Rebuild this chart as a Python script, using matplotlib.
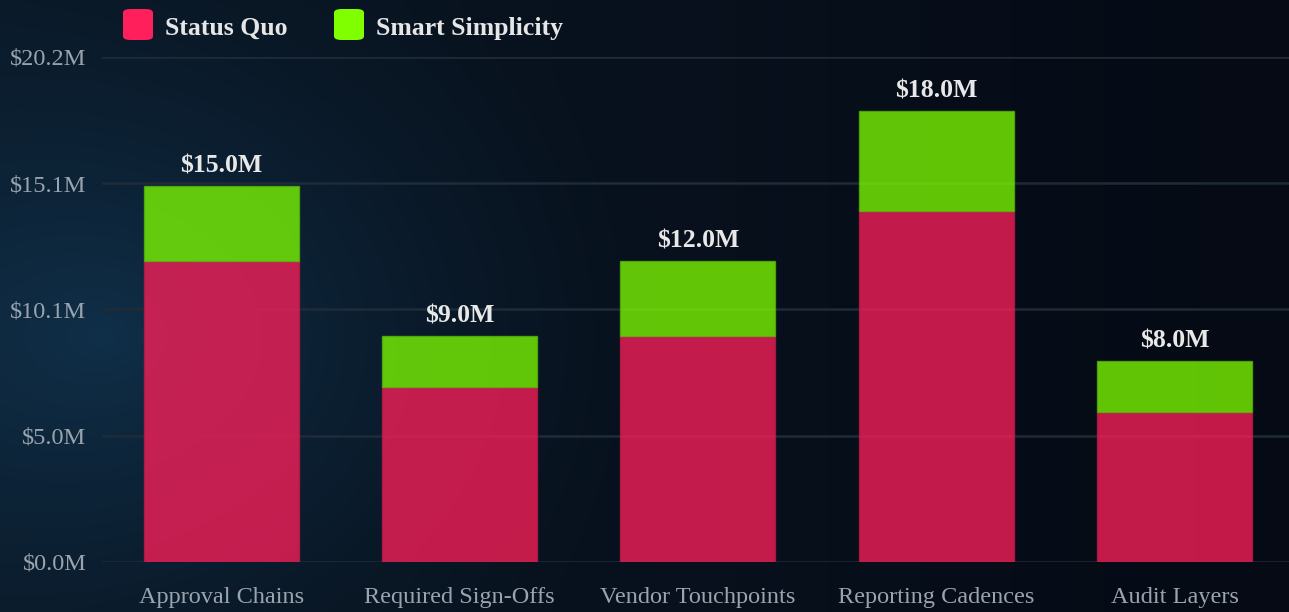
import matplotlib.pyplot as plt
import numpy as np
from matplotlib.patches import FancyBboxPatch

categories = ['Approval Chains', 'Required Sign-Offs', 'Vendor Touchpoints',
              'Reporting Cadences', 'Audit Layers']
status_quo = [12.0, 7.0, 9.0, 14.0, 6.0]
smart_simplicity = [3.0, 2.0, 3.0, 4.0, 2.0]
series_names = ['Status Quo', 'Smart Simplicity']
series_colors = ['#FF1F5A', '#7FFF00']

totals = [a + b for a, b in zip(status_quo, smart_simplicity)]
y_max = max(totals) * 1.12

plt.rcParams['font.family'] = ['Liberation Serif', 'DejaVu Serif']

fig = plt.figure(figsize=(12.89, 6.12), dpi=100)

# dark background with a soft blue glow on the left
bg = fig.add_axes([0, 0, 1, 1], zorder=-10)
h, w = 300, 640
yy, xx = np.mgrid[0:h, 0:w]
xs = xx / (w - 1)
ys = yy / (h - 1)
left = np.array([10, 24, 38]) / 255
right = np.array([5, 10, 20]) / 255
img = left[None, None, :] * (1 - xs[..., None]) + right[None, None, :] * xs[..., None]
d = np.sqrt(((xs - 0.08) / 0.45) ** 2 + ((ys - 0.55) / 0.7) ** 2)
glow = np.clip(1 - d, 0, 1) ** 1.5
img = img + glow[..., None] * (np.array([6, 24, 36]) / 255)
bg.imshow(np.clip(img, 0, 1), aspect='auto', extent=[0, 1, 0, 1])
bg.set_axis_off()

ax = fig.add_axes([0.079, 0.082, 0.925, 0.825])
ax.set_facecolor('none')
x = np.arange(len(categories))
width = 0.65

ax.bar(x, status_quo, width, color=series_colors[0], alpha=0.76,
       edgecolor='#C01A48', linewidth=1, zorder=3)
ax.bar(x, smart_simplicity, width, bottom=status_quo, color=series_colors[1],
       alpha=0.76, edgecolor='#55B80A', linewidth=1, zorder=3)

for xi, t in zip(x, totals):
    ax.text(xi, t + 0.35, f'${t:.1f}M', ha='center', va='bottom',
            fontsize=18.5, fontweight='bold', color='#e8e8e8', zorder=4)

ticks = [y_max * i / 4 for i in range(5)]
ax.set_yticks(ticks)
ax.set_yticklabels([f'${v:.1f}M' for v in ticks])
ax.set_ylim(0, y_max)
ax.set_xlim(-0.5, len(categories) - 0.5)
ax.set_xticks(x)
ax.set_xticklabels(categories)
ax.tick_params(axis='both', length=0, colors='#9aa4ae', labelsize=17.5)
ax.tick_params(axis='x', pad=18)
ax.tick_params(axis='y', pad=11)
ax.grid(axis='y', color='#1f2b38', linewidth=1.8, zorder=0)
ax.set_axisbelow(True)
for s in ax.spines.values():
    s.set_visible(False)

# legend with rounded colour swatches
for i, (name, col) in enumerate(zip(series_names, series_colors)):
    x0 = [123, 334][i] / 1289
    y0 = 1 - 40 / 612
    fig.patches.append(FancyBboxPatch((x0, y0), 30 / 1289, 31 / 612,
                                      boxstyle='round,pad=0,rounding_size=0.006',
                                      transform=fig.transFigure, facecolor=col,
                                      edgecolor='none'))
    fig.text(x0 + 42 / 1289, 1 - 28 / 612, name, fontsize=18.5, fontweight='bold',
             color='#e6e6e6', va='center', ha='left')

fig.savefig('out.png', dpi=100)
